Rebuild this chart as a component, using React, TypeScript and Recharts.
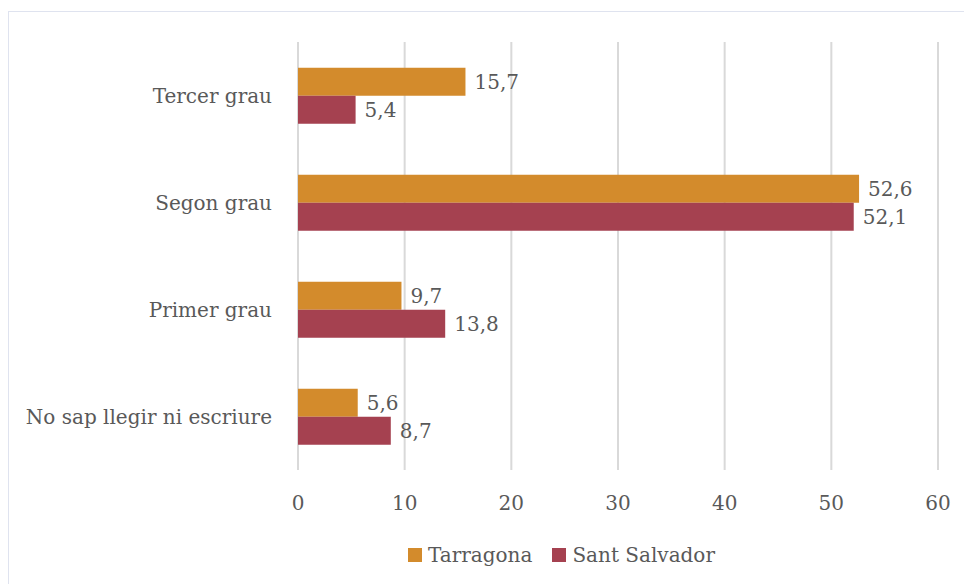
import { BarChart, Bar, XAxis, YAxis, CartesianGrid, LabelList, Legend } from 'recharts'

const categories = ['Tercer grau', 'Segon grau', 'Primer grau', 'No sap llegir ni escriure']
const tarragona = [15.7, 52.6, 9.7, 5.6]
const santSalvador = [5.4, 52.1, 13.8, 8.7]
const xTicks = [0, 10, 20, 30, 40, 50, 60]

const series = [
  { key: 'tarragona', name: 'Tarragona', color: '#D38B2C' },
  { key: 'santSalvador', name: 'Sant Salvador', color: '#A54150' },
]

const data = categories.map((name, i) => ({
  name,
  tarragona: tarragona[i],
  santSalvador: santSalvador[i],
}))

const FONT = '"DejaVu Serif", serif'
const TEXT = '#595959'

const fmt = (v: any) => String(v).replace('.', ',')

const LegendContent = () => (
  <div style={{ display: 'flex', alignItems: 'center', paddingLeft: 408, fontFamily: FONT, fontSize: 20, color: TEXT }}>
    {series.map((s) => (
      <div key={s.key} style={{ display: 'flex', alignItems: 'center', marginRight: 20 }}>
        <span style={{ width: 14, height: 14, background: s.color, marginRight: 6, display: 'inline-block' }} />
        <span>{s.name}</span>
      </div>
    ))}
  </div>
)

export default function App() {
  return (
    <div style={{ position: 'absolute', left: 0, top: 0, width: 964, height: 584, background: '#fff', overflow: 'hidden' }}>
      <div style={{ position: 'absolute', left: 8, top: 11, width: 1000, height: 1000, border: '1px solid #dfe3ef' }} />
      <div style={{ position: 'absolute', left: 0, top: 0 }}>
        <BarChart
          width={964}
          height={584}
          data={data}
          layout="vertical"
          margin={{ top: 42, right: 26, bottom: 17, left: 8 }}
          barCategoryGap="24%"
          barGap={0}
        >
          <CartesianGrid horizontal={false} stroke="#d9d9d9" strokeWidth={2} />
          <XAxis
            type="number"
            domain={[0, 60]}
            ticks={xTicks}
            axisLine={false}
            tickLine={false}
            tickMargin={20}
            height={73}
            tick={{ fill: TEXT, fontSize: 20, fontFamily: FONT }}
          />
          <YAxis
            type="category"
            dataKey="name"
            width={290}
            axisLine={false}
            tickLine={false}
            tickMargin={20}
            tick={{ fill: TEXT, fontSize: 20, fontFamily: FONT }}
          />
          <Legend verticalAlign="bottom" wrapperStyle={{ left: 0, width: 964 }} content={() => <LegendContent />} />
          {series.map((s) => (
            <Bar key={s.key} dataKey={s.key} name={s.name} fill={s.color} isAnimationActive={false}>
              <LabelList
                dataKey={s.key}
                position="right"
                offset={9}
                formatter={fmt}
                style={{ fill: TEXT, fontSize: 20, fontFamily: FONT }}
              />
            </Bar>
          ))}
        </BarChart>
      </div>
    </div>
  )
}
